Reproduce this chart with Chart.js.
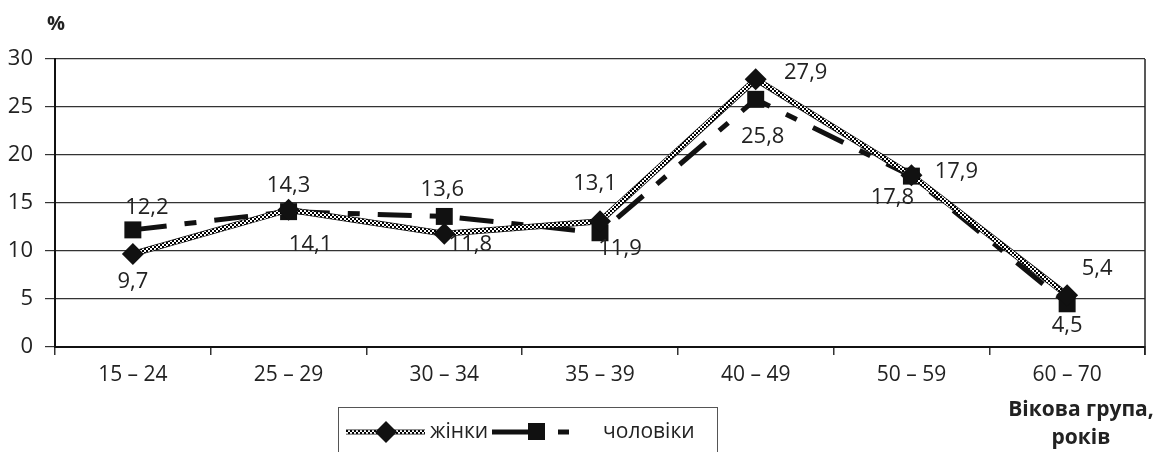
<!DOCTYPE html>
<html>
<head>
<meta charset="utf-8">
<script src="https://cdn.jsdelivr.net/npm/chart.js@4.4.1/dist/chart.umd.min.js"></script>
<style>
  html, body { margin: 0; padding: 0; background: #fff; }
  #wrap { width: 1163px; height: 452px; position: relative; }
</style>
</head>
<body>
<div id="wrap"><canvas id="chart" width="1163" height="452"></canvas></div>
<script>
const ageGroups = ['15 – 24', '25 – 29', '30 – 34', '35 – 39', '40 – 49', '50 – 59', '60 – 70'];
const women = [9.7, 14.3, 11.8, 13.1, 27.9, 17.9, 5.4];
const men = [12.2, 14.1, 13.6, 11.9, 25.8, 17.8, 4.5];
const yTicks = [0, 5, 10, 15, 20, 25, 30];

// where each value label sits relative to its point (dx, dy)
const womenLabelPos = [[0, 28], [0, -24], [26, 11], [-5, -38], [50, -6], [45, -3], [30, -26]];
const menLabelPos = [[14, -22], [22, 33], [-2, -27], [20, 16], [7, 37], [-19, 22], [0, 22]];

const FONT = '"Open Sans", "DejaVu Sans", sans-serif';

// checkered stroke for the women line
function makeChecker() {
    const c = document.createElement('canvas');
    c.width = 4; c.height = 4;
    const g = c.getContext('2d');
    g.fillStyle = '#fff';
    g.fillRect(0, 0, 4, 4);
    g.fillStyle = '#000';
    g.fillRect(0, 0, 2, 2);
    g.fillRect(2, 2, 2, 2);
    return g.createPattern(c, 'repeat');
}

const ctx = document.getElementById('chart').getContext('2d');
const checker = makeChecker();
const menDash = [34, 18, 12, 18];

const extrasPlugin = {
    id: 'extras',
    afterDatasetsDraw(chart) {
        const c = chart.ctx;
        const area = chart.chartArea;
        c.save();
        // right border
        c.strokeStyle = '#222';
        c.lineWidth = 1.5;
        c.beginPath();
        c.moveTo(area.right, area.top);
        c.lineTo(area.right, area.bottom + 8);
        c.stroke();

        // value labels
        c.fillStyle = '#222';
        c.font = '22px ' + FONT;
        c.textAlign = 'center';
        c.textBaseline = 'middle';
        const fmt = v => v.toFixed(1).replace('.', ',');
        const wMeta = chart.getDatasetMeta(1);
        const mMeta = chart.getDatasetMeta(0);
        wMeta.data.forEach((pt, i) => {
            c.fillText(fmt(women[i]), pt.x + womenLabelPos[i][0], pt.y + womenLabelPos[i][1]);
        });
        mMeta.data.forEach((pt, i) => {
            c.fillText(fmt(men[i]), pt.x + menLabelPos[i][0], pt.y + menLabelPos[i][1]);
        });

        // axis titles
        c.font = 'bold 20px ' + FONT;
        c.fillText('%', 56, 24);
        c.font = 'bold 21px ' + FONT;
        c.fillText('Вікова група,', 1081, 410);
        c.fillText('років', 1081, 438);

        // legend box
        c.strokeStyle = '#555';
        c.lineWidth = 1;
        c.strokeRect(338.5, 407.5, 379, 60);
        const ly = 432;
        // women sample
        c.lineWidth = 5;
        c.strokeStyle = '#222';
        c.beginPath(); c.moveTo(346, ly); c.lineTo(425, ly); c.stroke();
        c.lineWidth = 3.5;
        c.strokeStyle = checker;
        c.beginPath(); c.moveTo(346, ly); c.lineTo(425, ly); c.stroke();
        c.fillStyle = '#111';
        c.beginPath();
        c.moveTo(386, ly - 11); c.lineTo(397, ly); c.lineTo(386, ly + 11); c.lineTo(375, ly);
        c.closePath(); c.fill();
        c.fillStyle = '#222';
        c.font = '21px ' + FONT;
        c.textAlign = 'left';
        c.fillText('жінки', 430, ly);
        // men sample
        c.strokeStyle = '#111';
        c.lineWidth = 5;
        c.beginPath(); c.moveTo(492, ly); c.lineTo(530, ly); c.stroke();
        c.fillStyle = '#111';
        c.fillRect(528, ly - 9, 17, 17);
        c.beginPath(); c.moveTo(558, ly); c.lineTo(569, ly); c.stroke();
        c.fillStyle = '#222';
        c.fillText('чоловіки', 603, ly);
        c.restore();
    }
};

new Chart(ctx, {
    type: 'line',
    data: {
        labels: ageGroups,
        datasets: [
            {
                label: 'чоловіки',
                data: men,
                borderColor: '#111',
                borderWidth: 5,
                borderDash: menDash,
                pointStyle: 'rect',
                pointRadius: 12,
                pointBackgroundColor: '#111',
                pointBorderWidth: 0,
                tension: 0,
                order: 3
            },
            {
                label: 'жінки',
                data: women,
                borderColor: checker,
                borderWidth: 4.5,
                pointStyle: 'rectRot',
                pointRadius: 11,
                pointBackgroundColor: '#111',
                pointBorderWidth: 0,
                tension: 0,
                order: 1
            },
            {
                // dark outline under the checkered women line
                label: 'outline',
                data: women,
                borderColor: '#111',
                borderWidth: 6,
                pointRadius: 0,
                tension: 0,
                order: 2
            }
        ]
    },
    options: {
        responsive: false,
        animation: false,
        layout: { padding: { top: 59, right: 18, left: 0, bottom: 0 } },
        scales: {
            x: {
                type: 'category',
                offset: true,
                afterFit: s => { s.height = 105; },
                grid: {
                    offset: true,
                    drawOnChartArea: false,
                    tickLength: 8,
                    color: '#333',
                    lineWidth: 1.5
                },
                border: { color: '#111', width: 2 },
                ticks: {
                    color: '#222',
                    font: { family: FONT, size: 21 },
                    padding: 7,
                    maxRotation: 0
                }
            },
            y: {
                type: 'linear',
                min: 0,
                max: 30,
                afterFit: s => { s.width = 55; },
                afterBuildTicks: s => { s.ticks = yTicks.map(v => ({ value: v })); },
                grid: {
                    color: '#333',
                    lineWidth: 1.2,
                    tickLength: 10
                },
                border: { color: '#111', width: 2 },
                ticks: {
                    color: '#222',
                    font: { family: FONT, size: 22 },
                    padding: 12
                }
            }
        },
        plugins: {
            legend: { display: false },
            tooltip: { enabled: false }
        }
    },
    plugins: [extrasPlugin]
});
</script>
</body>
</html>
